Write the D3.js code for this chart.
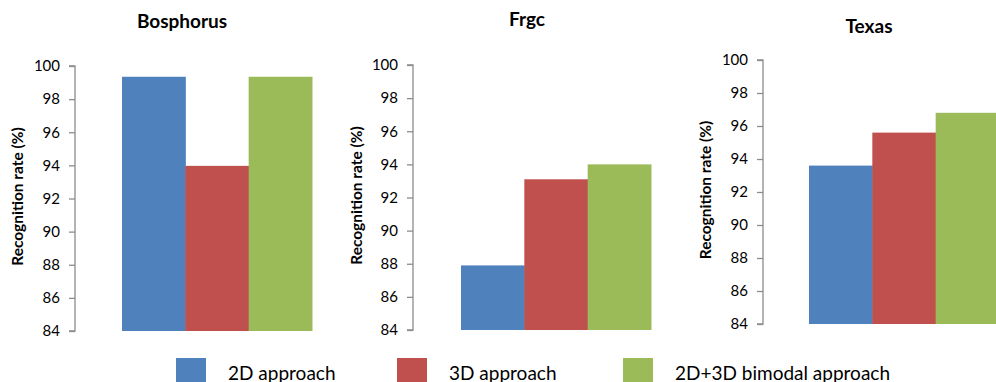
<!DOCTYPE html>
<html><head><meta charset="utf-8">
<script src="https://cdn.jsdelivr.net/npm/d3@7"></script>
<style>
body{margin:0;background:#fff;}
svg{display:block;font-family:Lato,"Open Sans",sans-serif;}
</style></head>
<body><svg id="c" width="996" height="382"></svg>
<script>
const datasets = ["Bosphorus", "Frgc", "Texas"];
const seriesNames = ["2D approach", "3D approach", "2D+3D bimodal approach"];
const values2D = [99.35, 87.9, 93.6];
const values3D = [93.97, 93.1, 95.6];
const valuesBimodal = [99.35, 94.0, 96.8];
const yTicks = [84, 86, 88, 90, 92, 94, 96, 98, 100];
const yLabel = "Recognition rate (%)";
const colors = ["#4f81bd", "#c0504d", "#9bbb59"];

const svg = d3.select("#c");
const allSeries = [values2D, values3D, valuesBimodal];

// layout for each panel
const panels = [
  {ax: 75, top: 66, bot: 331, x0: 122, x1: 312, tx: 182, ty: 28, lx: 18},
  {ax: 413, top: 65, bot: 330, x0: 461, x1: 651, tx: 527, ty: 26, lx: 357},
  {ax: 763, top: 60, bot: 324, x0: 809, x1: 999, tx: 869, ty: 33, lx: 706}
];

datasets.forEach((name, i) => {
  const p = panels[i];
  const y = d3.scaleLinear().domain([84, 100]).range([p.bot, p.top]);
  const x = d3.scaleBand().domain(seriesNames).range([p.x0, p.x1]).padding(0);
  const g = svg.append("g");
  const axis = d3.axisLeft(y).tickValues(yTicks).tickSize(6).tickPadding(9).tickFormat(d3.format("d"));
  const ag = g.append("g").attr("transform", `translate(${p.ax},0)`).call(axis);
  ag.select(".domain").attr("stroke", "#8c8c8c").attr("stroke-width", 1.3).attr("d", `M-6,${p.top}H0V${p.bot}H-6`);
  ag.selectAll(".tick line").attr("stroke", "#8c8c8c").attr("stroke-width", 1.3);
  ag.selectAll(".tick text").attr("fill", "#000").attr("font-size", "15px").attr("font-family", "Lato, 'Open Sans', sans-serif");
  g.selectAll("rect.bar").data(seriesNames).enter().append("rect")
    .attr("x", d => x(d)).attr("width", x.bandwidth() + 0.5)
    .attr("y", (d, k) => y(allSeries[k][i]))
    .attr("height", (d, k) => p.bot - y(allSeries[k][i]))
    .attr("fill", (d, k) => colors[k]);
  g.append("text").attr("x", p.tx).attr("y", p.ty).attr("text-anchor", "middle")
    .attr("font-weight", "bold").attr("font-size", "19px").attr("fill", "#000").text(name);
  const cy = (p.top + p.bot) / 2 - 2;
  g.append("text").attr("transform", `translate(${p.lx + 5},${cy}) rotate(-90)`)
    .attr("text-anchor", "middle").attr("font-weight", "bold").attr("font-size", "15.5px").attr("fill", "#000").text(yLabel);
});

// legend
const legendX = [176, 397, 623];
const lg = svg.append("g");
seriesNames.forEach((s, k) => {
  lg.append("rect").attr("x", legendX[k]).attr("y", 358).attr("width", 30).attr("height", 30).attr("fill", colors[k]);
  lg.append("text").attr("x", legendX[k] + 52).attr("y", 380).attr("font-size", "19px").attr("fill", "#000").text(s);
});
</script></body></html>
